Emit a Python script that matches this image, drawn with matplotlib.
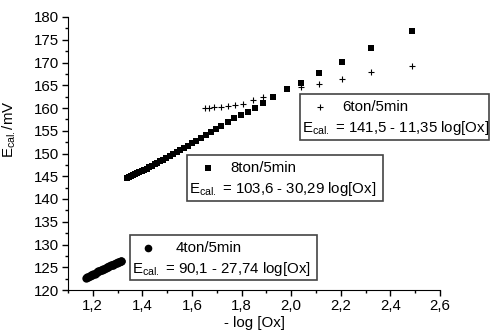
import matplotlib
matplotlib.use("Agg")
import matplotlib.pyplot as plt
from matplotlib.ticker import MultipleLocator, FuncFormatter
from matplotlib.patches import Rectangle

plt.rcParams['font.family'] = ['Liberation Sans', 'DejaVu Sans']
plt.rcParams['mathtext.fontset'] = 'custom'
plt.rcParams['mathtext.rm'] = 'Liberation Sans'
plt.rcParams['font.size'] = 10.8

# 4ton/5min
x4 = [1.172, 1.177, 1.182, 1.187, 1.192, 1.197, 1.202, 1.207, 1.212, 1.217,
      1.222, 1.227, 1.232, 1.237, 1.242, 1.247, 1.252, 1.257, 1.262, 1.267,
      1.272, 1.277, 1.282, 1.287, 1.292, 1.297, 1.302, 1.307, 1.312, 1.315]
y4 = [122.6, 122.8, 122.9, 123.1, 123.2, 123.4, 123.5, 123.6, 123.8, 123.9,
      124.1, 124.2, 124.3, 124.5, 124.6, 124.7, 124.9, 125.0, 125.1, 125.3,
      125.4, 125.5, 125.6, 125.8, 125.9, 126.0, 126.1, 126.2, 126.3, 126.4]

# 8ton/5min
x8 = [1.337, 1.345, 1.353, 1.361, 1.370, 1.379, 1.388, 1.397, 1.407, 1.417,
      1.427, 1.438, 1.449, 1.460, 1.472, 1.484, 1.497, 1.510, 1.524, 1.538,
      1.553, 1.568, 1.584, 1.601, 1.618, 1.636, 1.655, 1.675, 1.696, 1.718,
      1.745, 1.771, 1.798, 1.825, 1.855, 1.887, 1.927, 1.982, 2.041, 2.114,
      2.205, 2.322, 2.487]
y8 = [144.6, 144.8, 145.0, 145.2, 145.5, 145.7, 145.9, 146.2, 146.4, 146.7,
      147.0, 147.3, 147.6, 147.9, 148.3, 148.6, 149.0, 149.4, 149.8, 150.3,
      150.7, 151.2, 151.7, 152.2, 152.8, 153.4, 154.0, 154.7, 155.4, 156.1,
      157.0, 157.7, 158.4, 159.1, 159.9, 161.0, 162.4, 164.1, 165.6, 167.6,
      170.1, 173.1, 176.9]

# 6ton/5min
x6 = [1.651, 1.669, 1.687, 1.717, 1.745, 1.774, 1.804, 1.846, 1.885, 2.041,
      2.114, 2.205, 2.322, 2.489]
y6 = [160.1, 160.1, 160.2, 160.3, 160.4, 160.6, 160.9, 161.8, 162.5, 164.6,
      165.2, 166.3, 168.0, 169.3]

W, H = 491, 333
fig = plt.figure(figsize=(W / 100, H / 100), dpi=100)
ax = fig.add_axes([68 / W, 1 - 290 / H, (440 - 68) / W, (290 - 17) / H])

ax.plot(x4, y4, 'o', color='black', ms=6, mew=0)
ax.plot(x6, y6, '+', color='black', ms=5, mew=0.8)
ax.plot(x8, y8, 's', color='black', ms=5, mew=0)

ax.set_xlim(1.1, 2.6)
ax.set_ylim(120, 180)
ax.xaxis.set_major_locator(MultipleLocator(0.2))
ax.xaxis.set_minor_locator(MultipleLocator(0.1))
ax.yaxis.set_major_locator(MultipleLocator(5))
ax.yaxis.set_minor_locator(MultipleLocator(2.5))
ax.xaxis.set_major_formatter(FuncFormatter(lambda v, p: f"{v:.1f}".replace('.', ',')))
ax.yaxis.set_major_formatter(FuncFormatter(lambda v, p: f"{v:.0f}"))
ax.tick_params(which='major', direction='out', length=4.5, width=1, pad=2)
ax.tick_params(which='minor', direction='out', length=2.5, width=1)
ax.spines['top'].set_visible(False)
ax.spines['right'].set_visible(False)

ax.set_xlabel('- log [Ox]', labelpad=2)
ax.set_ylabel(r'E$_{\rm cal.}$/mV')
ax.yaxis.set_label_coords(-0.135, 0.59)


def fx(px):
    return px / W


def fy(py):
    return 1 - py / H


def legend_box(x0, y0, x1, y1, mx, lx, marker, ms, label, eq):
    fig.patches.append(Rectangle((fx(x0), fy(y1)), fx(x1) - fx(x0), fy(y0) - fy(y1),
                                 transform=fig.transFigure, fill=True, facecolor='white',
                                 edgecolor='#444444', lw=1.2, zorder=5))
    row1 = y0 + 13
    row2 = y0 + 34
    fig.lines.append(plt.Line2D([fx(mx)], [fy(row1)], marker=marker, ms=ms, mew=0.8 if marker == '+' else 0,
                                color='black', transform=fig.transFigure, zorder=6))
    fig.text(fx(lx), fy(row1), label, ha='left', va='center', zorder=6)
    fig.text(fx(x0 + 2), fy(row2), eq, ha='left', va='center', zorder=6)


legend_box(300, 94, 489, 140, 320, 342, '+', 5, '6ton/5min',
           r'E$_{\rm cal.}$ = 141,5 - 11,35 log[Ox]')
legend_box(187, 155, 383, 201, 208, 230, 's', 5, '8ton/5min',
           r'E$_{\rm cal.}$ = 103,6 - 30,29 log[Ox]')
legend_box(130, 235, 317, 280, 148, 176, 'o', 5.5, '4ton/5min',
           r'E$_{\rm cal.}$ = 90,1 - 27,74 log[Ox]')

fig.savefig('out.png', dpi=100)
